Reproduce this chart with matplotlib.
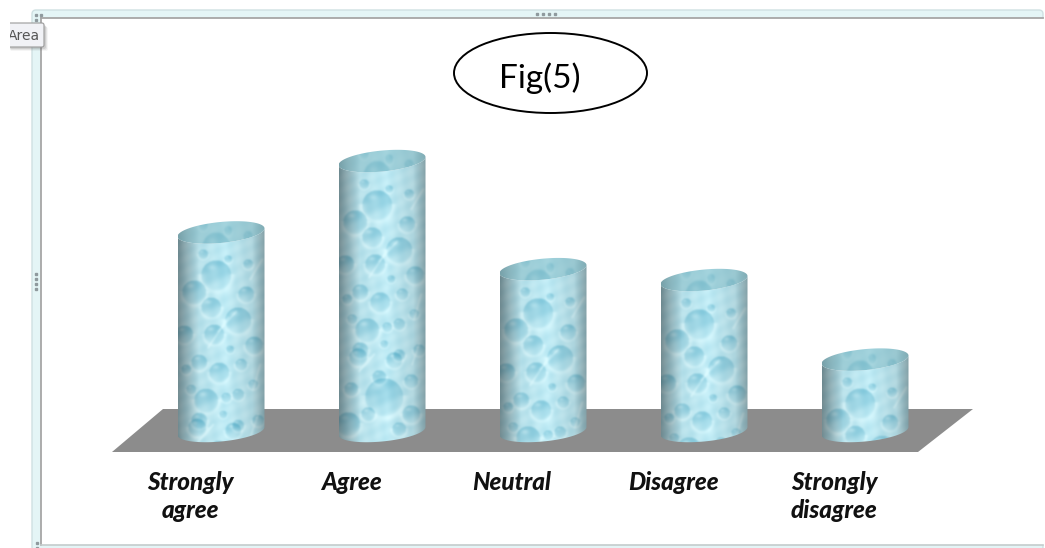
#!/usr/bin/env python3
import numpy as np
import matplotlib
matplotlib.use("Agg")
import matplotlib.pyplot as plt
from matplotlib.patches import Ellipse, FancyBboxPatch, PathPatch, Polygon, Rectangle
from matplotlib.path import Path

plt.rcParams["font.family"] = ["Lato", "DejaVu Sans"]

categories = ["Strongly\nagree", "Agree", "Neutral", "Disagree", "Strongly\ndisagree"]
values = [29.2, 39.7, 23.8, 22.2, 10.5]

W, H = 1045, 548
CAT_STEP = 161.0      # pixels between cylinders
CAT_LEFT = 221.0      # pixel x of first cylinder
UNIT = 6.8            # pixels per value unit
BASE_Y = 431.0        # pixel y of value 0
HALF_W = 43.5
ELL_B = 10.5
ELL_TILT = 4.0

# bubbles of the water texture: x, y from the top left of a cylinder, radius
BUBBLES = [
    (38, 56, 15), (16, 73, 12), (33, 88, 10), (60, 101, 13), (68, 75, 8),
    (36, 115, 10), (6, 115, 9), (76, 126, 9), (21, 143, 8), (41, 153, 10),
    (63, 145, 6), (28, 181, 12), (13, 170, 5), (60, 175, 6), (80, 201, 6),
    (21, 201, 8), (60, 206, 6), (50, 40, 4), (70, 45, 5), (25, 35, 5),
    (52, 130, 4), (48, 178, 5), (75, 165, 5), (8, 150, 5), (45, 195, 4),
    (19, 208, 9), (55, 211, 8), (40, 228, 7), (72, 232, 7), (12, 240, 7),
    (45, 248, 19), (9, 275, 12), (29, 265, 7), (72, 265, 9), (60, 280, 7),
]
# thin streaks: start and end of each crease
STREAKS = [
    (30, 128, 50, 98), (75, 170, 82, 145), (40, 112, 58, 92), (72, 60, 84, 40),
    (73, 215, 80, 195), (20, 222, 35, 205),
]


def blur(arr, sigma):
    radius = int(3 * sigma)
    kernel = np.exp(-0.5 * (np.arange(-radius, radius + 1) / sigma) ** 2)
    kernel /= kernel.sum()
    pad = np.pad(arr, radius, mode="edge")
    pad = np.apply_along_axis(lambda v: np.convolve(v, kernel, mode="same"), 0, pad)
    pad = np.apply_along_axis(lambda v: np.convolve(v, kernel, mode="same"), 1, pad)
    return pad[radius:-radius, radius:-radius]


def build_texture(h_px, w_px=87):
    yy, xx = np.mgrid[0:h_px * 2, 0:w_px * 2] / 2.0
    # pale base with slow mottling
    tone = 0.74 + 0.08 * np.sin(xx * 0.35 + yy * 0.21) * np.cos(yy * 0.27 - xx * 0.13)
    for bx, by, r in BUBBLES:
        d = np.hypot((xx - bx) / r, (yy - by) / r)
        # blue body fading towards the lower side, bright crescent below it
        body = np.where(d < 1, 1 - 0.6 * np.clip((yy - by) / r + 0.7, 0, 1.4), 0)
        tone -= 0.46 * body
        crescent = np.exp(-((d - 1.08) / 0.2) ** 2) * (yy > by - r * 0.1)
        tone += 0.18 * crescent
        spot = np.hypot((xx - bx + r * 0.3) / (r * 0.32), (yy - by + r * 0.55) / (r * 0.2))
        tone += 0.3 * np.exp(-spot ** 2)
    for x0, y0, x1, y1 in STREAKS:
        t = np.clip(((xx - x0) * (x1 - x0) + (yy - y0) * (y1 - y0))
                    / ((x1 - x0) ** 2 + (y1 - y0) ** 2), 0, 1)
        d = np.hypot(xx - x0 - t * (x1 - x0), yy - y0 - t * (y1 - y0))
        tone += 0.25 * np.exp(-(d / 1.0) ** 2)
    tone = blur(np.clip(tone, 0, 1), 1.6)

    dark = np.array([0.42, 0.73, 0.82])
    light = np.array([0.85, 0.97, 0.99])
    rgb = dark + (light - dark) * tone[..., None]

    # cylinder shading across the width
    u = xx / w_px
    shade = np.interp(u, [0, 0.05, 0.24, 0.55, 0.85, 1.0], [0.60, 0.68, 0.97, 1.02, 0.92, 0.68])
    return np.clip(rgb * shade[..., None], 0, 1)


TEXTURE = build_texture(310)

fig = plt.figure(figsize=(W / 100, H / 100), dpi=100)

# pixel overlay for the frame and furniture
bg = fig.add_axes([0, 0, 1, 1])
bg.set_xlim(0, W)
bg.set_ylim(H, 0)
bg.axis("off")

# value axes: same area, category index on x, value on y
ax = fig.add_axes([0, 0, 1, 1], facecolor="none")
ax.set_xlim(-CAT_LEFT / CAT_STEP, (W - CAT_LEFT) / CAT_STEP)
ax.set_ylim(-(H - BASE_Y) / UNIT, BASE_Y / UNIT)
ax.axis("off")

# selection frame around the chart area, open towards the right side
bg.add_patch(FancyBboxPatch((32, 10), 1011, 541, boxstyle="round,pad=0,rounding_size=4",
                            fc="#e4f5f6", ec="#cfe0e2", lw=1))
bg.add_patch(Rectangle((40.5, 18), 1003, 527, fc="white", ec="none"))
bg.plot([40.5, 40.5], [18, 545], color="#a6a6a6", lw=1.3)
bg.plot([40.5, 1043], [18, 18], color="#a6a6a6", lw=1.3)
bg.plot([40.5, 1043], [545, 545], color="#c4cccc", lw=1.2)
for dot_x in [537, 543, 549, 555]:
    bg.plot(dot_x, 14, "s", ms=1.5, color="#8f9a9e")
for dot_y in [274, 279, 284, 289]:
    bg.plot(36, dot_y, "s", ms=1.5, color="#8f9a9e")
for dot_x, dot_y in [(36, 15), (41, 15), (36, 20), (37, 543), (37, 548)]:
    bg.plot(dot_x, dot_y, "s", ms=1.4, color="#8f9a9e")

# tooltip, cut off at its left side
for off, alpha in [(4, 0.06), (3, 0.10), (2, 0.15)]:
    bg.add_patch(FancyBboxPatch((10, 23 + off), 34 + off, 24, boxstyle="round,pad=0,rounding_size=2",
                                fc="#555555", ec="none", alpha=alpha, zorder=4))
tip = FancyBboxPatch((6, 23), 38, 24, boxstyle="round,pad=0,rounding_size=2",
                     fc="#f1f2f6", ec="#9a9a9a", lw=0.8, zorder=5)
bg.add_patch(tip)
bg.add_patch(Rectangle((0, 18), 10, 34, fc="white", ec="none", zorder=6))
tip_text = bg.text(8, 35.5, "Area", fontsize=10, color="#555555", family="DejaVu Sans",
                   va="center", ha="left", zorder=7)
tip_text.set_clip_path(Rectangle((10, 18), 40, 34, transform=bg.transData))
tip_text.set_clip_on(True)

# floor of the 3-D chart
bg.add_patch(Polygon([(112, 452), (163, 409), (973, 409), (918, 452)], closed=True,
                     fc="#8c8c8c", ec="none"))

# caption in its oval
bg.add_patch(Ellipse((550.5, 73), 193, 80, fc="white", ec="black", lw=1.4))
bg.text(540, 88, "Fig(5)", fontsize=24, color="black", ha="center", va="baseline")


def rim(cat, val, start, stop, n=60):
    t = np.linspace(start, stop, n)
    x = cat + HALF_W * np.cos(t) / CAT_STEP
    y = val + (-ELL_B * np.sin(t) + ELL_TILT * np.cos(t)) / UNIT
    return x, y


for i, val in enumerate(values):
    top_h = val * UNIT
    tex_rows = int(round((top_h + 2 * ELL_B + 4) * 2))
    x_left = i - HALF_W / CAT_STEP
    x_right = i + HALF_W / CAT_STEP
    y_high = val + (ELL_B + 2) / UNIT
    y_low = y_high - tex_rows / 2 / UNIT

    # body: front half of the base rim, then back along the top rim
    bx, by = rim(i, 0, np.pi, 0)
    tx, ty = rim(i, val, 0, np.pi)
    verts = np.vstack([np.column_stack([bx, by]), np.column_stack([tx, ty])])
    body = PathPatch(Path(np.vstack([verts, verts[:1]]), closed=True), fc="none", ec="none",
                     transform=ax.transData)
    ax.add_patch(body)
    img = ax.imshow(TEXTURE[:tex_rows], extent=(x_left, x_right, y_low, y_high),
                    aspect="auto", interpolation="bilinear", zorder=3)
    img.set_clip_path(body)

    # top face is muted and close in tone to the body
    ex, ey = rim(i, val, 0, 2 * np.pi, 120)
    cap = PathPatch(Path(np.column_stack([ex, ey]), closed=True), fc="none", ec="none",
                    transform=ax.transData)
    ax.add_patch(cap)
    cap_tex = 0.5 * TEXTURE[60:104] + 0.5 * np.array([0.50, 0.72, 0.76])
    cap_img = ax.imshow(cap_tex, extent=(x_left, x_right, val - 14 / UNIT, val + 14 / UNIT),
                        aspect="auto", interpolation="bilinear", zorder=4)
    cap_img.set_clip_path(cap)

    # axis labels sit left of each cylinder
    ax.text(i - 31 / CAT_STEP, -(471 - BASE_Y) / UNIT, categories[i], fontsize=17.5,
            fontweight="black", fontstyle="italic", color="#111111", ha="center", va="top",
            linespacing=1.27, zorder=5)

ax.set_xlim(-CAT_LEFT / CAT_STEP, (W - CAT_LEFT) / CAT_STEP)
ax.set_ylim(-(H - BASE_Y) / UNIT, BASE_Y / UNIT)

fig.savefig("out.png", dpi=100)
